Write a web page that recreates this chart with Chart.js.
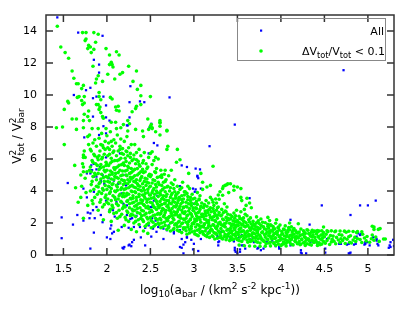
<!DOCTYPE html>
<html>
<head>
<meta charset="utf-8">
<script src="https://cdn.jsdelivr.net/npm/chart.js@4.4.1/dist/chart.umd.min.js"></script>
<style>
  html, body { margin: 0; padding: 0; background: #fff; }
  #wrap { width: 415px; height: 312px; }
</style>
</head>
<body>
<div id="wrap"><canvas id="plot" width="415" height="312"></canvas></div>
<script>
// axis ticks
const xTickValues = [1.5, 2, 2.5, 3, 3.5, 4, 4.5, 5];
const xTickLabels = ["1.5", "2", "2.5", "3", "3.5", "4", "4.5", "5"];
const yTickValues = [0, 2, 4, 6, 8, 10, 12, 14];

// green points (dV/V < 0.1)
// sparse upper part and outliers
const subsetSparse = [
  [1.43,14.3],[1.72,13.9],[1.76,13.9],[1.85,13.9],[1.90,13.8],[1.76,13.5],[1.75,13.4],[1.87,13.3],[1.79,13.1],[1.81,13.0],
  [1.47,13.0],[1.78,12.9],[1.99,12.9],[1.85,12.85],[1.52,12.65],[1.82,12.65],[2.11,12.7],[2.14,12.5],[2.03,12.5],[1.56,12.3],
  [2.05,12.05],[2.06,11.9],[2.03,11.9],[1.84,11.8],[2.25,11.8],[2.07,11.75],[1.60,11.5],[2.34,11.5],[2.18,11.4],[2.15,11.3],
  [2.01,11.3],[1.90,11.2],[1.88,11.0],[1.87,10.75],[1.62,11.05],[2.09,11.0],[1.95,10.85],[2.30,10.85],[1.65,10.7],[1.67,10.7],
  [2.39,10.6],[1.73,10.6],[1.71,10.4],[2.35,10.35],[1.91,10.15],[1.68,9.9],[1.66,9.85],[1.74,9.9],[2.04,9.85],[2.06,9.75],
  [1.91,9.9],[1.93,9.7],[2.39,9.95],[2.50,9.9],[1.55,9.6],[1.56,9.5],[1.71,9.65],[1.74,9.5],[1.72,9.4],[1.88,9.4],
  [1.90,9.4],[1.92,9.25],[1.91,9.1],[2.10,9.25],[2.13,9.3],[2.11,9.05],[2.14,9.0],[2.34,9.3],[2.33,9.15],[2.39,9.4],
  [1.51,9.1],[1.79,9.0],[1.74,8.8],[1.78,8.65],[1.93,8.9],[1.95,8.65],[1.96,8.55],[2.29,8.95],[1.60,8.5],[1.65,8.5],
  [2.47,8.5],[2.61,8.4],[1.73,8.4],[1.80,8.4],[2.05,8.3],[2.10,8.3],[2.24,8.4],[2.26,8.2],[2.19,8.15],[2.51,8.15],
  [2.50,8.05],[2.61,8.25],[1.42,7.95],[1.49,8.0],[1.65,7.85],[1.73,7.95],[1.83,7.9],[1.90,7.9],[1.99,7.9],[2.11,7.9],
  [2.16,7.95],[2.24,7.75],[2.33,7.85],[2.41,7.75],[2.48,7.85],[2.52,7.95],[2.69,7.8],[2.42,7.4],[1.51,6.9],[1.63,5.6],
  [1.75,6.1],[1.73,5.2],[1.73,5.5],[1.73,6.25],[2.61,8.3],[2.61,8.05],[2.52,7.9],[2.56,7.7],[2.61,7.5],[2.69,7.75],
  [2.70,6.8],[2.69,6.6],[2.81,6.6],[2.80,5.8],[2.84,5.95],[3.22,5.55],[3.08,5.1],[2.94,5.1],[2.74,5.3],[2.67,5.3],
  [2.63,5.0],[2.52,6.45],[2.56,6.1],[2.50,6.35],[2.59,6.0],[3.10,4.55],[2.93,4.3],[3.19,4.35],[3.15,4.25],[3.10,4.1],
  [3.22,3.3],[3.25,3.5],[3.28,3.75],[3.30,3.95],[3.33,4.15],[3.36,4.35],[3.39,4.45],[3.42,4.45],[3.46,4.3],[3.50,4.25],
  [3.38,4.4],[3.34,4.3],[3.29,3.48],[3.33,3.73],[3.40,3.9],[3.46,4.05],[3.54,4.15],[3.54,3.6],[3.61,3.55],[3.55,3.4],
  [3.60,3.1],[3.64,3.25],[3.66,2.95],[3.58,2.85],[2.13,1.55],[2.34,1.45],[2.20,1.85],[2.28,1.6],[2.42,1.5],[2.47,1.35],
  [1.96,2.2],[1.73,2.3],[1.90,2.8],[2.05,2.1],[1.78,3.1],[1.84,3.2],[1.70,3.6],[1.64,4.2],[1.67,3.3]
];

// dense band, read strip by strip
const subsetCore = [
  [1.71,4.3],[1.77,5.2],[1.73,6.1],[1.79,6.9],[1.75,4.8],[1.72,5.7],[1.78,7.4],[1.74,6.5],[1.76,3.9],[1.70,5.0],
  [1.83,3.4],[1.89,3.8],[1.85,4.1],[1.82,4.4],[1.88,4.7],[1.84,4.9],[1.86,5.1],[1.80,5.3],[1.81,5.5],[1.87,5.7],
  [1.83,5.9],[1.89,6.1],[1.85,6.3],[1.82,6.5],[1.88,6.8],[1.84,7.0],[1.86,7.2],[1.80,7.5],
  [1.95,3.0],[1.92,3.3],[1.98,3.6],[1.94,3.85],[1.96,4.05],[1.90,4.25],[1.91,4.45],[1.97,4.6],[1.93,4.75],[1.99,4.9],
  [1.94,5.05],[1.98,5.2],[1.91,5.35],[1.96,5.5],[1.93,5.65],[1.99,5.8],[1.90,5.95],[1.95,6.1],[1.97,6.3],[1.92,6.5],
  [1.96,6.7],[1.93,6.9],[1.98,7.1],[1.91,7.3],[1.94,7.6],
  [2.08,2.6],[2.04,2.85],[2.06,3.1],[2.00,3.3],[2.01,3.5],[2.07,3.7],[2.03,3.85],[2.09,4.0],[2.05,4.15],[2.02,4.3],
  [2.07,4.45],[2.01,4.6],[2.05,4.75],[2.09,4.9],[2.03,5.0],[2.06,5.15],[2.00,5.3],[2.08,5.45],[2.02,5.6],[2.04,5.75],
  [2.09,5.9],[2.05,6.05],[2.01,6.2],[2.07,6.4],[2.03,6.6],[2.06,6.8],[2.02,7.0],[2.08,7.2],[2.00,7.45],[2.04,7.7],
  [2.12,2.3],[2.17,2.55],[2.14,2.8],[2.19,3.0],[2.11,3.2],[2.16,3.35],[2.13,3.5],[2.18,3.65],[2.15,3.8],[2.10,3.95],
  [2.16,4.1],[2.12,4.25],[2.19,4.4],[2.14,4.55],[2.17,4.7],[2.11,4.85],[2.18,5.0],[2.13,5.15],[2.15,5.3],[2.10,5.45],
  [2.14,5.6],[2.19,5.75],[2.12,5.9],[2.16,6.05],[2.11,6.2],[2.17,6.35],[2.13,6.5],[2.18,6.65],[2.15,6.8],[2.10,7.0],
  [2.16,7.25],[2.12,7.5],
  [2.25,2.1],[2.21,2.35],[2.28,2.55],[2.23,2.75],[2.26,2.95],[2.20,3.1],[2.29,3.25],[2.24,3.4],[2.27,3.55],[2.22,3.7],
  [2.23,3.85],[2.28,4.0],[2.20,4.1],[2.25,4.2],[2.29,4.35],[2.21,4.5],[2.26,4.6],[2.24,4.7],[2.27,4.85],[2.22,5.0],
  [2.28,5.15],[2.23,5.3],[2.25,5.45],[2.20,5.6],[2.26,5.75],[2.29,5.9],[2.21,6.05],[2.24,6.2],[2.27,6.35],[2.22,6.5],
  [2.25,6.7],[2.28,6.9],[2.20,7.1],[2.23,7.4],
  [2.37,1.9],[2.33,2.1],[2.39,2.3],[2.30,2.5],[2.35,2.65],[2.32,2.8],[2.38,2.95],[2.34,3.1],[2.36,3.2],[2.31,3.3],
  [2.39,3.45],[2.34,3.6],[2.30,3.7],[2.37,3.8],[2.32,3.95],[2.36,4.1],[2.33,4.2],[2.38,4.3],[2.35,4.45],[2.31,4.6],
  [2.34,4.7],[2.39,4.8],[2.32,4.95],[2.37,5.1],[2.30,5.25],[2.35,5.4],[2.38,5.55],[2.33,5.7],[2.36,5.85],[2.31,6.0],
  [2.39,6.2],[2.34,6.4],[2.37,6.6],[2.32,6.9],
  [2.44,1.8],[2.48,2.0],[2.41,2.2],[2.46,2.35],[2.43,2.5],[2.49,2.65],[2.40,2.8],[2.45,2.95],[2.47,3.05],[2.42,3.15],
  [2.46,3.3],[2.41,3.4],[2.48,3.5],[2.43,3.65],[2.49,3.75],[2.44,3.85],[2.40,4.0],[2.47,4.1],[2.42,4.2],[2.45,4.35],
  [2.48,4.5],[2.43,4.6],[2.46,4.75],[2.40,4.9],[2.49,5.05],[2.44,5.2],[2.41,5.35],[2.47,5.5],[2.45,5.7],[2.42,5.9],
  [2.48,6.1],[2.43,6.4],
  [2.51,1.7],[2.56,1.9],[2.53,2.05],[2.58,2.2],[2.50,2.35],[2.55,2.5],[2.59,2.6],[2.52,2.7],[2.57,2.85],[2.54,3.0],
  [2.53,3.1],[2.58,3.2],[2.50,3.3],[2.56,3.45],[2.51,3.55],[2.59,3.65],[2.55,3.8],[2.52,3.9],[2.57,4.0],[2.54,4.15],
  [2.50,4.3],[2.56,4.4],[2.59,4.55],[2.53,4.7],[2.58,4.85],[2.51,5.0],[2.55,5.2],[2.57,5.4],[2.52,5.65],[2.54,5.9],
  [2.69,1.6],[2.64,1.75],[2.60,1.9],[2.66,2.05],[2.62,2.2],[2.68,2.3],[2.65,2.4],[2.61,2.55],[2.67,2.65],[2.63,2.75],
  [2.65,2.85],[2.60,2.95],[2.69,3.05],[2.63,3.15],[2.67,3.25],[2.61,3.35],[2.66,3.45],[2.64,3.55],[2.68,3.65],[2.62,3.75],
  [2.61,3.85],[2.67,3.95],[2.64,4.1],[2.69,4.25],[2.60,4.4],[2.65,4.55],[2.68,4.7],[2.63,4.85],[2.66,5.05],[2.62,5.3],
  [2.73,1.5],[2.77,1.65],[2.71,1.8],[2.79,1.95],[2.75,2.05],[2.70,2.15],[2.76,2.3],[2.72,2.4],[2.78,2.5],[2.74,2.6],
  [2.77,2.7],[2.72,2.8],[2.75,2.9],[2.79,3.0],[2.70,3.1],[2.74,3.2],[2.78,3.3],[2.71,3.4],[2.76,3.5],[2.73,3.6],
  [2.79,3.7],[2.75,3.85],[2.72,4.0],[2.77,4.15],[2.70,4.3],[2.74,4.5],[2.78,4.7],[2.71,4.95],
  [2.86,1.4],[2.81,1.55],[2.88,1.7],[2.84,1.8],[2.80,1.9],[2.87,2.0],[2.83,2.1],[2.89,2.2],[2.85,2.3],[2.82,2.4],
  [2.84,2.5],[2.89,2.6],[2.81,2.7],[2.86,2.8],[2.83,2.9],[2.88,3.0],[2.80,3.1],[2.85,3.2],[2.87,3.3],[2.82,3.4],
  [2.88,3.5],[2.83,3.6],[2.86,3.7],[2.80,3.8],[2.89,3.95],[2.84,4.1],[2.81,4.3],[2.87,4.55],
  [2.92,1.3],[2.98,1.45],[2.95,1.6],[2.90,1.7],[2.97,1.8],[2.93,1.9],[2.99,2.0],[2.94,2.1],[2.96,2.2],[2.91,2.3],
  [2.98,2.4],[2.93,2.5],[2.96,2.6],[2.90,2.7],[2.99,2.8],[2.95,2.9],[2.92,3.0],[2.97,3.1],[2.94,3.2],[2.91,3.3],
  [2.96,3.4],[2.99,3.5],[2.93,3.65],[2.98,3.8],[2.90,3.95],[2.95,4.15],
  [3.05,1.2],[3.01,1.32],[3.09,1.45],[3.04,1.55],[3.07,1.65],[3.02,1.75],[3.06,1.85],[3.00,1.95],[3.08,2.05],[3.03,2.15],
  [3.01,2.25],[3.06,2.35],[3.03,2.45],[3.09,2.55],[3.05,2.65],[3.00,2.75],[3.07,2.85],[3.02,2.95],[3.08,3.05],[3.04,3.15],
  [3.09,3.25],[3.03,3.35],[3.06,3.45],[3.01,3.55],[3.07,3.7],[3.04,3.9],
  [3.18,1.1],[3.13,1.22],[3.16,1.35],[3.10,1.45],[3.19,1.55],[3.14,1.65],[3.11,1.75],[3.17,1.85],[3.12,1.95],[3.15,2.05],
  [3.17,2.15],[3.12,2.25],[3.19,2.35],[3.14,2.45],[3.10,2.55],[3.16,2.65],[3.13,2.75],[3.18,2.85],[3.11,2.95],[3.15,3.05],
  [3.12,3.15],[3.17,3.25],[3.14,3.4],[3.19,3.6],
  [3.24,1.0],[3.29,1.1],[3.21,1.2],[3.26,1.3],[3.23,1.4],[3.28,1.5],[3.20,1.6],[3.25,1.7],[3.27,1.8],[3.22,1.9],
  [3.29,2.0],[3.25,2.1],[3.21,2.2],[3.27,2.3],[3.23,2.4],[3.28,2.5],[3.24,2.6],[3.20,2.7],[3.26,2.8],[3.22,2.9],
  [3.28,3.0],[3.23,3.1],[3.26,3.25],[3.21,3.45],
  [3.37,0.95],[3.32,1.05],[3.35,1.15],[3.39,1.25],[3.30,1.35],[3.34,1.45],[3.38,1.55],[3.31,1.65],[3.36,1.75],[3.33,1.85],
  [3.35,1.95],[3.30,2.05],[3.38,2.15],[3.33,2.25],[3.37,2.35],[3.31,2.45],[3.39,2.55],[3.34,2.65],[3.36,2.75],[3.32,2.85],
  [3.38,3.0],[3.35,3.2],
  [3.41,0.9],[3.46,1.0],[3.43,1.1],[3.48,1.18],[3.45,1.26],[3.40,1.34],[3.49,1.42],[3.44,1.5],[3.47,1.58],[3.42,1.66],
  [3.48,1.74],[3.43,1.82],[3.46,1.9],[3.41,1.98],[3.49,2.06],[3.45,2.14],[3.40,2.22],[3.47,2.3],[3.44,2.4],[3.42,2.5],
  [3.46,2.62],[3.49,2.8],
  [3.55,0.85],[3.50,0.95],[3.58,1.04],[3.53,1.12],[3.56,1.2],[3.51,1.28],[3.59,1.36],[3.54,1.44],[3.57,1.52],[3.52,1.6],
  [3.54,1.68],[3.59,1.76],[3.51,1.84],[3.56,1.92],[3.53,2.0],[3.58,2.08],[3.50,2.16],[3.55,2.24],[3.57,2.32],[3.52,2.42],
  [3.59,2.55],[3.54,2.7],
  [3.62,0.8],[3.67,0.9],[3.64,0.98],[3.69,1.06],[3.60,1.14],[3.66,1.22],[3.63,1.3],[3.68,1.38],[3.61,1.46],[3.65,1.54],
  [3.69,1.62],[3.64,1.7],[3.67,1.78],[3.62,1.86],[3.66,1.94],[3.60,2.02],[3.68,2.1],[3.63,2.2],[3.65,2.32],[3.61,2.45],
  [3.76,0.75],[3.71,0.85],[3.79,0.93],[3.74,1.01],[3.77,1.09],[3.72,1.17],[3.75,1.25],[3.70,1.33],[3.78,1.41],[3.73,1.49],
  [3.71,1.57],[3.76,1.65],[3.73,1.73],[3.78,1.81],[3.70,1.89],[3.75,1.97],[3.79,2.05],[3.74,2.14],[3.77,2.25],[3.72,2.38],
  [3.83,0.7],[3.88,0.8],[3.80,0.88],[3.85,0.96],[3.89,1.04],[3.82,1.12],[3.86,1.2],[3.81,1.28],[3.87,1.36],[3.84,1.44],
  [3.88,1.52],[3.83,1.6],[3.86,1.68],[3.80,1.76],[3.89,1.84],[3.85,1.92],[3.82,2.02],[3.87,2.15],
  [3.97,0.68],[3.92,0.76],[3.95,0.84],[3.99,0.92],[3.90,1.0],[3.94,1.07],[3.98,1.14],[3.91,1.21],[3.96,1.28],[3.93,1.35],
  [3.95,1.42],[3.90,1.49],[3.98,1.56],[3.93,1.63],[3.97,1.7],[3.91,1.78],[3.99,1.87],[3.94,1.98],
  [4.01,0.65],[4.06,0.73],[4.03,0.81],[4.08,0.89],[4.05,0.97],[4.00,1.05],[4.09,1.12],[4.04,1.19],[4.07,1.26],[4.02,1.33],
  [4.06,1.4],[4.01,1.47],[4.08,1.54],[4.03,1.62],[4.09,1.71],[4.05,1.82],
  [4.14,0.63],[4.19,0.71],[4.10,0.79],[4.16,0.87],[4.12,0.95],[4.17,1.02],[4.13,1.09],[4.18,1.16],[4.11,1.23],[4.15,1.3],
  [4.19,1.37],[4.13,1.44],[4.17,1.51],[4.10,1.58],[4.15,1.66],[4.12,1.76],
  [4.28,0.6],[4.23,0.68],[4.26,0.76],[4.21,0.84],[4.29,0.92],[4.24,1.0],[4.20,1.07],[4.27,1.14],[4.22,1.21],[4.25,1.28],
  [4.28,1.35],[4.21,1.43],[4.26,1.52],[4.23,1.62],
  [4.35,0.62],[4.30,0.7],[4.38,0.78],[4.33,0.86],[4.36,0.94],[4.31,1.02],[4.39,1.1],[4.34,1.18],[4.37,1.26],[4.32,1.34],
  [4.35,1.42],[4.39,1.5],[4.30,1.58],
  [4.42,0.6],[4.47,0.68],[4.44,0.76],[4.49,0.84],[4.40,0.92],[4.45,1.0],[4.48,1.08],[4.43,1.16],[4.46,1.24],[4.41,1.32],
  [4.49,1.4],[4.44,1.5],
  [4.56,0.66],[4.51,0.74],[4.58,0.82],[4.53,0.9],[4.59,0.98],[4.55,1.06],[4.50,1.14],[4.57,1.22],[4.52,1.3],[4.54,1.46],
  [4.63,0.7],[4.68,0.78],[4.61,0.86],[4.66,0.94],[4.69,1.02],[4.64,1.1],[4.60,1.18],[4.67,1.28],[4.62,1.45],
  [4.74,0.72],[4.79,0.8],[4.71,0.9],[4.76,0.98],[4.73,1.06],[4.78,1.14],[4.70,1.24],[4.75,1.42],
  [4.81,0.75],[4.86,0.84],[4.83,0.93],[4.88,1.02],[4.85,1.1],[4.80,1.2],[4.87,1.4],
  [4.93,0.78],[4.98,0.88],[4.91,0.97],[4.96,1.06],[4.99,1.16],[4.94,1.3]
];

// second pass over the same band, the gaps between the first reading
const subsetCoreFill = [
  [1.86,3.6],[1.81,4.0],[1.88,4.3],[1.83,4.6],[1.87,5.0],[1.82,5.2],[1.89,5.6],[1.84,5.8],[1.86,6.2],[1.81,6.6],
  [1.97,3.15],[1.93,3.45],[1.99,3.75],[1.91,3.95],[1.95,4.15],[1.98,4.35],[1.92,4.55],[1.96,4.85],[1.90,5.1],[1.97,5.3],
  [1.93,5.45],[1.99,5.6],[1.94,6.0],[1.91,6.2],[1.98,6.6],[1.95,6.85],
  [2.03,2.7],[2.07,2.95],[2.02,3.2],[2.05,3.4],[2.09,3.6],[2.04,3.95],[2.00,4.1],[2.06,4.4],[2.03,4.55],[2.08,4.7],
  [2.01,4.85],[2.06,5.05],[2.04,5.25],[2.09,5.35],[2.00,5.65],[2.06,5.85],[2.03,6.3],[2.08,6.5],[2.01,6.7],[2.05,7.1],
  [2.15,2.4],[2.11,2.65],[2.18,2.9],[2.13,3.1],[2.17,3.3],[2.10,3.45],[2.14,3.7],[2.19,3.85],[2.12,4.05],[2.17,4.2],
  [2.11,4.35],[2.15,4.5],[2.19,4.65],[2.13,4.8],[2.16,4.95],[2.10,5.1],[2.18,5.25],[2.12,5.5],[2.17,5.65],[2.14,5.95],
  [2.19,6.3],[2.15,6.6],
  [2.22,2.2],[2.27,2.45],[2.24,2.65],[2.29,2.85],[2.21,3.0],[2.26,3.2],[2.23,3.35],[2.28,3.5],[2.20,3.65],[2.25,3.8],
  [2.29,3.95],[2.22,4.15],[2.27,4.3],[2.24,4.45],[2.20,4.65],[2.28,4.75],[2.23,4.95],[2.26,5.1],[2.21,5.25],[2.28,5.4],
  [2.24,5.55],[2.22,5.85],[2.27,6.1],[2.23,6.45],
  [2.31,2.0],[2.36,2.2],[2.33,2.4],[2.38,2.6],[2.30,2.75],[2.35,2.9],[2.32,3.05],[2.38,3.25],[2.34,3.4],[2.30,3.55],
  [2.37,3.65],[2.33,3.9],[2.39,4.05],[2.31,4.25],[2.36,4.35],[2.33,4.55],[2.38,4.65],[2.30,4.85],[2.35,5.0],[2.39,5.2],
  [2.32,5.35],[2.37,5.65],[2.34,5.95],[2.31,6.25],
  [2.46,1.9],[2.42,2.1],[2.47,2.25],[2.40,2.45],[2.45,2.6],[2.42,2.75],[2.48,2.9],[2.43,3.1],[2.40,3.25],[2.46,3.45],
  [2.44,3.55],[2.41,3.75],[2.47,3.9],[2.43,4.05],[2.49,4.25],[2.41,4.45],[2.46,4.55],[2.44,4.8],[2.48,4.95],[2.42,5.15],
  [2.46,5.4],[2.41,5.75],
  [2.54,1.8],[2.59,2.0],[2.51,2.15],[2.56,2.3],[2.53,2.45],[2.58,2.55],[2.51,2.8],[2.55,2.95],[2.59,3.05],[2.52,3.25],
  [2.57,3.35],[2.54,3.6],[2.50,3.75],[2.58,3.9],[2.53,4.05],[2.57,4.25],[2.52,4.5],[2.55,4.65],[2.50,4.9],[2.56,5.15],
  [2.62,1.7],[2.67,1.85],[2.63,2.0],[2.69,2.15],[2.61,2.3],[2.66,2.5],[2.62,2.6],[2.68,2.8],[2.64,2.9],[2.61,3.1],
  [2.66,3.2],[2.69,3.4],[2.63,3.5],[2.65,3.7],[2.69,3.8],[2.62,4.0],[2.66,4.2],[2.63,4.35],[2.67,4.6],[2.61,4.9],
  [2.76,1.58],[2.71,1.72],[2.78,1.88],[2.73,2.0],[2.77,2.2],[2.71,2.35],[2.75,2.45],[2.79,2.65],[2.73,2.75],[2.71,2.95],
  [2.77,3.05],[2.72,3.25],[2.76,3.35],[2.79,3.55],[2.74,3.75],[2.78,3.95],[2.73,4.2],[2.76,4.4],
  [2.83,1.48],[2.88,1.62],[2.81,1.75],[2.86,1.95],[2.82,2.05],[2.88,2.25],[2.84,2.35],[2.80,2.55],[2.87,2.65],[2.82,2.85],
  [2.88,2.95],[2.84,3.05],[2.81,3.25],[2.86,3.45],[2.83,3.55],[2.89,3.75],[2.82,3.9],[2.86,4.2],
  [2.95,1.38],[2.91,1.52],[2.97,1.65],[2.93,1.75],[2.98,1.95],[2.91,2.05],[2.96,2.25],[2.92,2.45],[2.97,2.55],[2.94,2.75],
  [2.99,2.95],[2.91,3.05],[2.97,3.25],[2.93,3.45],[2.96,3.6],[2.92,3.85],
  [3.03,1.26],[3.07,1.4],[3.01,1.5],[3.06,1.6],[3.09,1.8],[3.04,1.9],[3.01,2.1],[3.07,2.2],[3.04,2.3],[3.09,2.4],
  [3.02,2.6],[3.06,2.7],[3.03,2.9],[3.08,3.0],[3.01,3.2],[3.06,3.5],
  [3.15,1.15],[3.11,1.3],[3.18,1.4],[3.13,1.5],[3.16,1.7],[3.19,1.8],[3.12,1.9],[3.17,2.0],[3.14,2.2],[3.11,2.4],
  [3.18,2.5],[3.13,2.6],[3.16,2.8],[3.19,2.95],[3.12,3.1],
  [3.27,1.05],[3.22,1.15],[3.25,1.35],[3.29,1.45],[3.21,1.55],[3.26,1.65],[3.23,1.85],[3.28,1.95],[3.24,2.15],[3.21,2.35],
  [3.26,2.45],[3.29,2.65],[3.23,2.75],[3.27,2.95],
  [3.33,1.0],[3.38,1.1],[3.31,1.2],[3.36,1.3],[3.33,1.5],[3.39,1.6],[3.35,1.8],[3.31,1.9],[3.37,2.0],[3.34,2.2],
  [3.39,2.3],[3.32,2.5],[3.37,2.7],
  [3.44,0.95],[3.49,1.05],[3.42,1.14],[3.47,1.3],[3.43,1.38],[3.41,1.54],[3.46,1.7],[3.49,1.86],[3.44,1.94],[3.47,2.1],
  [3.42,2.26],[3.48,2.45],
  [3.52,0.9],[3.57,1.0],[3.54,1.16],[3.59,1.24],[3.51,1.4],[3.56,1.48],[3.53,1.64],[3.58,1.8],[3.55,1.88],[3.51,2.04],
  [3.57,2.12],[3.53,2.28],
  [3.65,0.85],[3.61,0.94],[3.68,1.1],[3.63,1.18],[3.67,1.34],[3.62,1.5],[3.66,1.66],[3.61,1.82],[3.69,1.9],[3.64,2.06],
  [3.73,0.8],[3.78,0.97],[3.71,1.05],[3.76,1.21],[3.73,1.37],[3.79,1.45],[3.74,1.61],[3.71,1.77],[3.77,1.85],[3.72,2.01],
  [3.86,0.75],[3.81,0.84],[3.84,1.0],[3.88,1.16],[3.83,1.32],[3.87,1.48],[3.81,1.64],[3.85,1.8],[3.88,1.88],
  [3.92,0.72],[3.97,0.88],[3.93,1.04],[3.99,1.18],[3.92,1.31],[3.96,1.46],[3.91,1.6],[3.97,1.74],
  [4.03,0.69],[4.07,0.85],[4.02,1.0],[4.06,1.16],[4.01,1.3],[4.08,1.44],[4.04,1.58],
  [4.12,0.67],[4.17,0.83],[4.11,0.98],[4.16,1.12],[4.13,1.27],[4.18,1.41],[4.14,1.55],
  [4.22,0.64],[4.27,0.8],[4.24,0.96],[4.28,1.1],[4.22,1.25],[4.27,1.4],
  [4.33,0.66],[4.37,0.82],[4.32,0.98],[4.36,1.14],[4.33,1.3],[4.38,1.46],
  [4.45,0.64],[4.41,0.8],[4.47,0.96],[4.43,1.12],[4.48,1.28],[4.42,1.44]
];

// thin tracks and stragglers on the right
const subsetTail = [
  [4.31,1.55],[4.36,1.54],[4.42,1.53],[4.47,1.52],[4.53,1.52],[4.58,1.51],[4.63,1.5],[4.68,1.5],[4.73,1.49],[4.78,1.48],
  [4.83,1.47],[4.88,1.46],[4.93,1.45],[3.52,0.62],[3.58,0.58],[3.64,0.56],[3.70,0.55],[3.76,0.54],[3.82,0.55],[3.88,0.57],
  [3.94,0.6],[4.00,0.58],[4.06,0.56],[5.07,1.6],[5.12,1.6],[5.05,1.8],[5.18,1.0],[5.14,1.65],[5.07,1.75],[5.20,1.0],
  [4.49,1.75],[5.13,0.85],[5.02,0.8],[5.07,0.92],[5.04,1.02],[5.09,1.12],[5.05,1.25],[4.20,1.95],[4.10,2.0],[3.95,2.2],
  [3.85,2.35]
];

// blue points (all galaxies) that are not covered by green
const allOnly = [
  [1.43,14.85],[1.67,13.9],[1.95,13.7],[1.85,12.2],[1.91,11.9],[1.91,11.4],[2.27,10.55],[1.81,10.45],[1.76,10.3],[1.62,10.0],
  [1.84,9.8],[1.88,9.9],[1.96,9.9],[2.26,9.55],[2.38,9.6],[2.43,9.55],[2.72,9.85],[1.99,9.35],[1.84,8.65],[1.99,8.6],
  [2.26,8.6],[2.03,8.4],[2.24,8.1],[2.49,7.95],[1.74,7.35],[1.91,7.5],[1.99,7.6],[1.96,8.05],[2.23,8.1],[2.51,8.2],
  [3.47,8.15],[4.72,11.55],[3.18,6.8],[2.58,6.85],[2.54,7.0],[2.86,5.6],[3.07,5.35],[3.04,4.9],[3.05,4.8],[2.84,4.3],
  [3.02,4.1],[1.55,4.5],[1.48,2.35],[1.48,1.05],[1.61,1.9],[1.66,2.5],[1.73,4.15],[1.81,0.4],[1.80,2.3],[1.85,1.4],
  [1.82,5.6],[1.85,5.7],[1.77,5.1],[1.83,5.3],[1.88,5.35],[1.92,5.5],[1.88,4.9],[1.95,5.0],[2.02,4.8],[2.08,4.65],
  [2.19,5.0],[1.93,4.55],[2.03,4.25],[2.13,4.45],[2.22,4.35],[2.48,6.35],[2.54,5.9],[1.99,6.1],[2.15,6.35],
  [1.78,2.65],[1.84,2.8],[1.88,3.0],[1.86,2.3],[1.93,2.5],[1.95,2.05],[2.00,1.1],[2.04,1.0],[2.06,1.35],[2.08,1.45],
  [2.04,1.65],[2.05,1.85],[2.19,0.4],[2.25,0.6],[2.29,0.8],[2.31,0.95],[2.17,1.75],[2.25,1.7],[2.31,1.75],[2.39,1.1],
  [2.51,1.15],[2.38,1.75],[2.44,1.7],[2.48,1.85],[2.15,2.4],[2.23,2.5],[2.29,2.3],[2.34,2.45],[2.40,2.45],[2.50,2.3],
  [2.09,2.4],[2.07,2.8],[2.06,3.1],[2.19,3.2],[2.23,3.1],
  [2.18,0.45],[2.20,0.5],[2.26,0.65],[2.28,0.55],[2.44,0.6],[2.88,0.1],[2.88,0.65],[2.86,0.45],[3.00,0.7],[2.99,0.35],
  [3.05,0.25],[3.29,0.85],[3.28,0.6],[3.50,0.1],[3.53,0.35],[3.47,0.45],[3.74,0.45],[3.77,0.3],[3.94,0.55],[3.98,0.4],
  [4.23,0.3],[4.29,0.1],[4.51,0.15],[4.80,0.15],[5.26,0.5],[5.30,0.55],[4.69,0.7],[4.84,0.65],[4.97,0.7],[5.02,0.6],
  [5.11,0.7],[3.48,0.2],[3.57,0.6],[3.69,0.8],[3.73,0.4],[3.80,0.4],[3.84,0.8],[3.90,0.9],[3.98,0.5],[4.21,0.7],
  [4.23,0.15],[4.51,0.4],[4.42,0.65],[3.28,0.8],[3.42,1.0],[3.46,0.85],[3.65,1.0],[3.54,1.45],
  [4.47,3.1],[4.91,3.1],[5.00,3.1],[5.09,3.4],[4.80,2.5],[4.11,2.2],[4.33,1.9],[3.64,3.55],[5.29,0.95],[5.26,0.8],
  [5.25,0.6],[5.24,0.45],[4.97,0.8],[4.89,1.35],[4.87,1.15],[4.78,0.7],[4.67,0.7],[4.79,0.1],[4.99,0.8],[5.06,1.1],
  [5.10,1.0],[2.52,2.3],[2.53,1.65],[2.57,1.45],[2.65,1.0],[2.71,1.85],[2.77,1.35],[2.86,1.0],[2.90,0.8],[2.92,1.1],
  [2.97,0.95],[2.99,4.15],[3.01,3.95],[3.08,1.0],[3.15,1.2],[3.17,1.45],[3.27,1.2],[3.31,1.45],[3.39,1.2],[3.52,1.1],
  [3.55,0.6],[3.47,0.3],[3.53,0.2],[3.59,0.4],[2.84,0.5],[2.52,3.0],[2.54,3.4],[2.58,3.7],
  [3.55,1.25],[3.60,1.15],[3.66,0.9],[4.11,0.6],[4.13,0.65],[4.24,0.1],[4.34,0.8],[4.42,0.8],[4.53,1.0],[4.76,0.65],
  [4.78,0.1],[4.86,0.7],[4.96,0.65],[4.91,1.25],[4.92,1.3],[5.10,0.9],[5.12,0.6],
  [1.99,3.4],[2.03,2.8],[2.11,3.3],[2.27,2.25],[2.38,2.25],[2.50,3.0],[2.56,2.15],[2.59,1.75],[2.65,1.65],[2.69,1.55],
  [2.77,1.45],[2.84,1.55],[2.92,1.1],[3.02,5.4],[3.04,4.95],[3.08,4.15],[3.00,3.2],[2.92,5.5],[2.17,3.85],[2.23,3.75],
  [1.93,4.65],[1.97,4.45],[1.81,5.1],[1.85,4.9],[1.77,3.6],[1.85,3.95],[1.73,2.15],[1.81,2.6]
];

const toXY = arr => arr.map(p => ({ x: p[0], y: p[1] }));
const FONT = '"DejaVu Sans", sans-serif';

// lay out text with sub/superscripts; "over" puts a part at the start of the previous one
function placeParts(ctx, parts, size) {
  let cx = 0, prevStart = 0;
  const items = [];
  parts.forEach(p => {
    const fs = p.s ? size * 0.75 : size;
    ctx.font = fs + "px " + FONT;
    const w = ctx.measureText(p.t).width;
    const start = p.over ? prevStart : cx;
    let dy = 0;
    if (p.s === "sup") dy = -size * 0.42;
    if (p.s === "sub") dy = size * 0.28;
    items.push({ t: p.t, fs: fs, x: start, dy: dy });
    if (p.over) {
      cx = Math.max(cx, start + w);
    } else {
      prevStart = start;
      cx = start + w;
    }
  });
  return { items: items, width: cx };
}

function drawRich(ctx, parts, size, x, y, align) {
  const res = placeParts(ctx, parts, size);
  let x0 = x;
  if (align === "center") x0 = x - res.width / 2;
  if (align === "right") x0 = x - res.width;
  ctx.textAlign = "left";
  ctx.textBaseline = "alphabetic";
  res.items.forEach(it => {
    ctx.font = it.fs + "px " + FONT;
    ctx.fillText(it.t, x0 + it.x, y + it.dy);
  });
}

const yTitle = [
  { t: "V" }, { t: "2", s: "sup" }, { t: "tot", s: "sub", over: true },
  { t: " / V" }, { t: "2", s: "sup" }, { t: "bar", s: "sub", over: true }
];
const xTitle = [
  { t: "log" }, { t: "10", s: "sub" }, { t: "(a" }, { t: "bar", s: "sub" },
  { t: " / (km" }, { t: "2", s: "sup" }, { t: " s" }, { t: "-2", s: "sup" },
  { t: " kpc" }, { t: "-1", s: "sup" }, { t: "))" }
];
const keyLine2 = [
  { t: "\u0394V" }, { t: "tot", s: "sub" }, { t: "/V" }, { t: "tot", s: "sub" }, { t: " < 0.1" }
];

// frame, inward ticks, labels and key, gnuplot style
const framePlugin = {
  id: "framePlugin",
  afterDatasetsDraw(chart) {
    const ctx = chart.ctx;
    const a = chart.chartArea;
    const xs = chart.scales.x;
    const ys = chart.scales.y;
    const tl = 7;
    ctx.save();
    ctx.strokeStyle = "#333";
    ctx.lineWidth = 1.5;
    ctx.strokeRect(a.left, a.top, a.right - a.left, a.bottom - a.top);
    ctx.beginPath();
    xTickValues.forEach(v => {
      const px = xs.getPixelForValue(v);
      ctx.moveTo(px, a.bottom); ctx.lineTo(px, a.bottom - tl);
      ctx.moveTo(px, a.top); ctx.lineTo(px, a.top + tl);
    });
    yTickValues.forEach(v => {
      const py = ys.getPixelForValue(v);
      ctx.moveTo(a.left, py); ctx.lineTo(a.left + tl, py);
      ctx.moveTo(a.right, py); ctx.lineTo(a.right - tl, py);
    });
    ctx.stroke();

    ctx.fillStyle = "#000";
    ctx.font = "11px " + FONT;
    ctx.textAlign = "center";
    ctx.textBaseline = "alphabetic";
    xTickValues.forEach((v, i) => {
      ctx.fillText(xTickLabels[i], xs.getPixelForValue(v), 272);
    });
    ctx.textAlign = "right";
    ctx.textBaseline = "middle";
    yTickValues.forEach(v => {
      ctx.fillText(String(v), 37, ys.getPixelForValue(v));
    });

    // axis titles
    drawRich(ctx, xTitle, 12, 220, 294, "center");
    ctx.save();
    ctx.translate(21, 136);
    ctx.rotate(-Math.PI / 2);
    drawRich(ctx, yTitle, 12, 0, 0, "center");
    ctx.restore();

    // key box
    ctx.strokeStyle = "#888";
    ctx.lineWidth = 1;
    ctx.strokeRect(237.5, 18.5, 148, 42);
    ctx.fillStyle = "#0000ff";
    ctx.fillRect(260, 29.5, 2.2, 2.2);
    ctx.fillStyle = "#00ff00";
    ctx.beginPath();
    ctx.arc(261, 51, 1.8, 0, Math.PI * 2);
    ctx.fill();
    ctx.fillStyle = "#000";
    ctx.font = "11px " + FONT;
    ctx.textAlign = "right";
    ctx.textBaseline = "alphabetic";
    ctx.fillText("All", 384, 35);
    drawRich(ctx, keyLine2, 11, 385, 55, "right");
    ctx.restore();
  }
};

window.addEventListener("DOMContentLoaded", () => {
  const ctx = document.getElementById("plot").getContext("2d");
  new Chart(ctx, {
    type: "scatter",
    data: {
      datasets: [
        {
          label: "\u0394Vtot/Vtot < 0.1",
          data: toXY(subsetCore.concat(subsetCoreFill, subsetSparse, subsetTail)),
          pointStyle: "circle",
          pointRadius: 1.8,
          pointBorderWidth: 0,
          backgroundColor: "#00ff00",
          order: 0
        },
        {
          label: "All",
          data: toXY(allOnly),
          pointStyle: "rect",
          pointRadius: 1.6,
          pointBorderWidth: 0,
          backgroundColor: "#0000ff",
          order: 1
        }
      ]
    },
    options: {
      responsive: false,
      animation: false,
      devicePixelRatio: 1,
      events: [],
      layout: { padding: { left: 46, top: 15, right: 21, bottom: 57 } },
      plugins: { legend: { display: false }, tooltip: { enabled: false } },
      scales: {
        x: { type: "linear", min: 1.3, max: 5.3, display: false },
        y: { type: "linear", min: 0, max: 15, display: false }
      }
    },
    plugins: [framePlugin]
  });
});
</script>
</body>
</html>
